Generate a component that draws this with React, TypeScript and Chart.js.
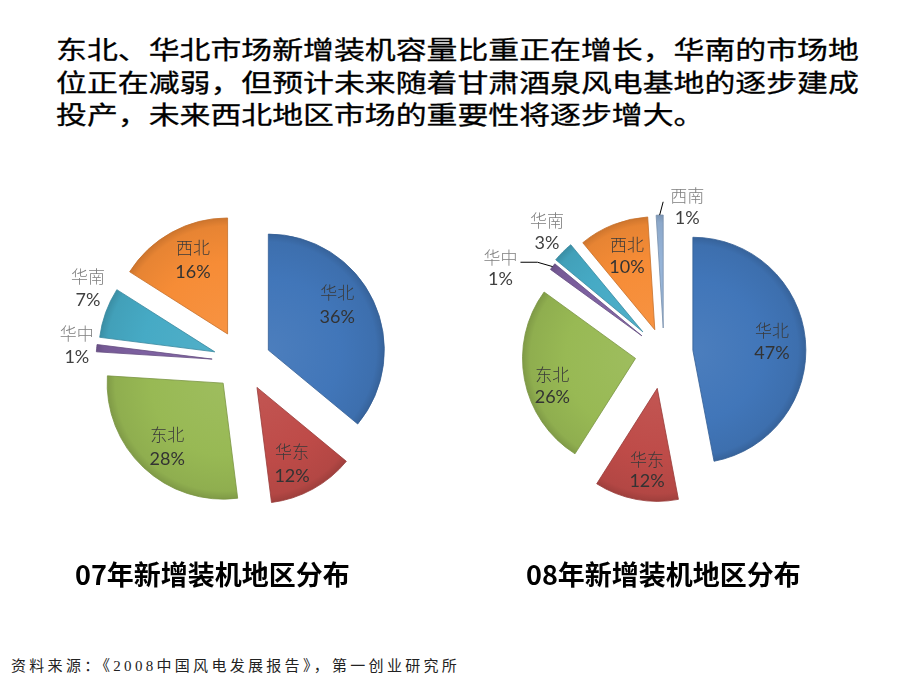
import React, { useEffect, useRef } from 'react';
import { Chart, PieController, ArcElement } from 'chart.js';

Chart.register(PieController, ArcElement);

// ---------- data ----------
const headingLines = [
  '东北、华北市场新增装机容量比重正在增长，华南的市场地',
  '位正在减弱，但预计未来随着甘肃酒泉风电基地的逐步建成',
  '投产，未来西北地区市场的重要性将逐步增大。',
];
const regions07 = ['华北', '华东', '东北', '华中', '华南', '西北'];
const share07 = [36, 12, 28, 1, 7, 16];
const regions08 = ['华北', '华东', '东北', '华中', '华南', '西北', '西南'];
const share08 = [47, 12, 26, 1, 3, 10, 1];
const caption07 = '07年新增装机地区分布';
const caption08 = '08年新增装机地区分布';
const sourceNote = '资料来源：《2008中国风电发展报告》，第一创业研究所';

// ---------- styles ----------
const regionColors: Record<string, string> = {
  华北: '#4176B9',
  华东: '#BE4B48',
  东北: '#98B954',
  华中: '#7D60A0',
  华南: '#46AAC5',
  西北: '#F68C36',
  西南: '#95B3D7',
};

type PieStyle = {
  radius: number;
  explode: number[]; // px
  labelLayout: number[][]; // [angle shift deg, distance / radius]
  outside: boolean[];
  lineGap: number;
  leaders: Record<number, number[][]>;
};

const style07: PieStyle = {
  radius: 116,
  explode: [28, 29, 29, 31, 30, 32],
  labelLayout: [[-6, 0.95], [3.1, 0.975], [-1.4, 0.98], [0.4, 1.44], [5.7, 1.48], [2.7, 0.98]],
  outside: [false, false, false, true, true, false],
  lineGap: 24,
  leaders: {},
};

const style08: PieStyle = {
  radius: 113,
  explode: [29, 36, 29, 28, 30, 25, 25],
  labelLayout: [[-0.4, 0.96], [-2.6, 1.05], [-5.6, 1.03], [-10.4, 1.63], [1, 1.49], [0.7, 0.92], [10.8, 1.31]],
  outside: [false, false, false, true, true, false, true],
  lineGap: 22,
  leaders: { 3: [[20, -6], [37, -6]], 6: [[-24, -5]] },
};

function shade(hex: string, amt: number) {
  const n = parseInt(hex.slice(1), 16);
  const ch = [(n >> 16) & 255, (n >> 8) & 255, n & 255].map((c) =>
    amt < 0 ? Math.round(c * (1 + amt)) : Math.round(c + (255 - c) * amt)
  );
  return `rgb(${ch[0]},${ch[1]},${ch[2]})`;
}

function makeLabelPlugin(st: PieStyle) {
  return {
    id: 'sliceLabels',
    // draw each arc element itself, moved out along its mid angle (exploded pie)
    beforeDatasetDraw(chart: any, args: any) {
      const ctx: CanvasRenderingContext2D = chart.ctx;
      const meta = args.meta;
      meta.data.forEach((arc: any, i: number) => {
        const mid = (arc.startAngle + arc.endAngle) / 2;
        const d = st.explode[i] || 0;
        ctx.save();
        ctx.translate(Math.cos(mid) * d, Math.sin(mid) * d);
        arc.draw(ctx, chart.chartArea);
        ctx.restore();
      });
      return false;
    },
    afterDatasetsDraw(chart: any) {
      const ctx: CanvasRenderingContext2D = chart.ctx;
      const meta = chart.getDatasetMeta(0);
      const R = meta.controller.outerRadius;
      const labels = chart.data.labels as string[];
      const values = chart.data.datasets[0].data as number[];
      ctx.save();
      ctx.textAlign = 'center';
      ctx.textBaseline = 'middle';
      meta.data.forEach((arc: any, i: number) => {
        const mid = (arc.startAngle + arc.endAngle) / 2;
        const [shift, dist] = st.labelLayout[i];
        const a = mid + (shift * Math.PI) / 180;
        const lx = arc.x + Math.cos(a) * dist * R;
        const ly = arc.y + Math.sin(a) * dist * R;
        const out = st.outside[i];
        const leader = st.leaders[i];
        if (leader) {
          const off = st.explode[i] || 0;
          const tx = arc.x + Math.cos(mid) * (off + R);
          const ty = arc.y + Math.sin(mid) * (off + R);
          ctx.beginPath();
          ctx.strokeStyle = '#000';
          ctx.lineWidth = 1;
          ctx.moveTo(lx + leader[0][0], ly + leader[0][1]);
          for (let k = 1; k < leader.length; k++) ctx.lineTo(lx + leader[k][0], ly + leader[k][1]);
          ctx.lineTo(tx, ty);
          ctx.stroke();
        }
        ctx.font = "300 17px 'Noto Sans CJK SC'";
        ctx.fillStyle = out ? '#7f7f7f' : '#3a3a3a';
        ctx.fillText(labels[i], lx, ly - st.lineGap / 2);
        ctx.font = "18px Lato, 'Noto Sans'";
        ctx.fillStyle = out ? '#404040' : '#333333';
        ctx.fillText(values[i] + '%', lx, ly + st.lineGap / 2);
      });
      ctx.restore();
    },
  };
}

function PieChart(props: { labels: string[]; values: number[]; st: PieStyle; left: number; top: number; size: number }) {
  const ref = useRef<HTMLCanvasElement>(null);
  const { labels, values, st, left, top, size } = props;
  useEffect(() => {
    if (!ref.current) return;
    const R = st.radius;
    const chart = new Chart(ref.current, {
      type: 'pie',
      data: {
        labels,
        datasets: [
          {
            data: values,
            borderWidth: 0.8,
            borderColor: labels.map((l) => shade(regionColors[l], -0.2)),
            backgroundColor: (c: any) => {
              const base = regionColors[labels[c.dataIndex]] || '#888';
              const area = c.chart.chartArea;
              if (!area) return base;
              const cx = (area.left + area.right) / 2;
              const cy = (area.top + area.bottom) / 2;
              const g = c.chart.ctx.createRadialGradient(cx, cy, 0, cx, cy, R + 4);
              g.addColorStop(0, shade(base, 0.06));
              g.addColorStop(0.6, base);
              g.addColorStop(0.9, shade(base, -0.06));
              g.addColorStop(1, shade(base, -0.22));
              return g;
            },
          } as any,
        ],
      },
      options: {
        responsive: false,
        animation: false,
        radius: R,
        plugins: { legend: { display: false }, tooltip: { enabled: false } },
        events: [],
      } as any,
      plugins: [makeLabelPlugin(st) as any],
    });
    return () => chart.destroy();
  }, []);
  return (
    <canvas
      ref={ref}
      width={size}
      height={size}
      style={{ position: 'absolute', left, top, width: size, height: size, display: 'block' }}
    />
  );
}

export default function App() {
  return (
    <div
      style={{
        position: 'absolute',
        left: 0,
        top: 0,
        width: 920,
        height: 690,
        background: '#ffffff',
        overflow: 'hidden',
        fontFamily: "'Noto Sans CJK SC', sans-serif",
      }}
    >
      <div
        style={{
          position: 'absolute',
          left: 56,
          top: 32,
          fontSize: 25,
          lineHeight: '32.5px',
          fontWeight: 400,
          color: '#000',
          whiteSpace: 'nowrap',
          transform: 'scaleX(1.235)',
          transformOrigin: 'left top',
          WebkitTextStroke: '0.3px #000',
        }}
      >
        {headingLines.map((l, i) => (
          <div key={i}>{l}</div>
        ))}
      </div>
      <PieChart labels={regions07} values={share07} st={style07} left={43} top={162} size={400} />
      <PieChart labels={regions08} values={share08} st={style08} left={464} top={153} size={400} />
      <div
        style={{ position: 'absolute', left: 75, top: 560, fontSize: 27, lineHeight: '27px', fontWeight: 700, color: '#000', whiteSpace: 'nowrap' }}
      >
        {caption07}
      </div>
      <div
        style={{ position: 'absolute', left: 526, top: 560, fontSize: 27, lineHeight: '27px', fontWeight: 700, color: '#000', whiteSpace: 'nowrap' }}
      >
        {caption08}
      </div>
      <div
        style={{
          position: 'absolute',
          left: 11,
          top: 659,
          fontSize: 15,
          lineHeight: '15px',
          letterSpacing: '3.3px',
          color: '#222',
          whiteSpace: 'nowrap',
          fontFamily: "'Liberation Serif', 'Noto Sans CJK SC', serif",
        }}
      >
        {sourceNote}
      </div>
    </div>
  );
}
